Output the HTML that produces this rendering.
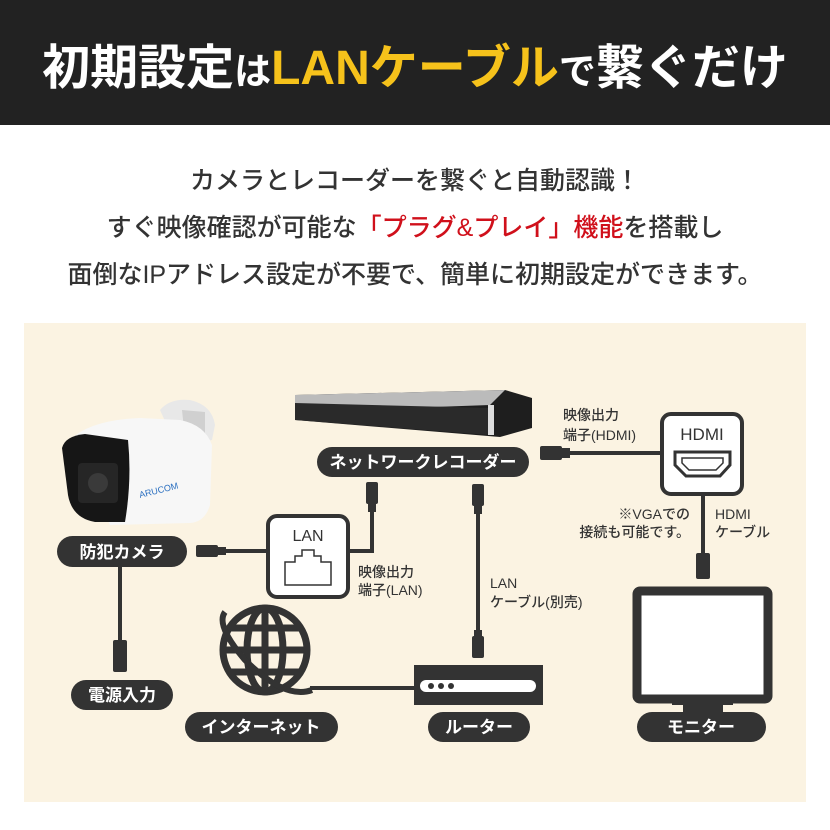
<!DOCTYPE html>
<html><head><meta charset="utf-8"><style>
html,body{margin:0;padding:0;width:830px;height:830px;overflow:hidden;background:#fff;}
svg{display:block;font-family:"Liberation Sans","Noto Sans CJK JP",sans-serif;}
</style></head><body>
<svg width="830" height="830" viewBox="0 0 830 830" xmlns="http://www.w3.org/2000/svg">
<rect x="0" y="0" width="830" height="125" fill="#222"/>
<text x="415" y="84" text-anchor="middle" font-size="48" font-weight="bold" fill="#fff"><tspan>初期設定</tspan><tspan font-size="37">は</tspan><tspan fill="#f6c21b">LANケーブル</tspan><tspan font-size="37">で</tspan><tspan>繋ぐだけ</tspan></text>
<g font-size="25" fill="#333" text-anchor="middle" font-weight="500">
<text x="415" y="189">カメラとレコーダーを繋ぐと自動認識！</text>
<text x="415" y="236">すぐ映像確認が可能な<tspan fill="#d0101b">「プラグ&amp;プレイ」機能</tspan>を搭載し</text>
<text x="415" y="283">面倒なIPアドレス設定が不要で、簡単に初期設定ができます。</text>
</g>
<rect x="24" y="323" width="782" height="479" fill="#fbf3e2"/>
<g stroke="#333" stroke-width="4" fill="none">
<path d="M225 551 H268"/><path d="M348 551 H372 V505"/>
<path d="M478 505 V640"/>
<path d="M570 453 H662"/>
<path d="M703 494 V555"/>
<path d="M120 566 V642"/>
<path d="M310 688 H414"/>
</g>
<g fill="#333">
<rect x="196" y="545" width="22" height="12" rx="2"/><rect x="216" y="547" width="10" height="8"/>
<rect x="366" y="482" width="12" height="22" rx="2"/><rect x="368" y="502" width="8" height="10"/>
<rect x="472" y="484" width="12" height="22" rx="2"/><rect x="474" y="504" width="8" height="10"/>
<rect x="472" y="636" width="12" height="22" rx="2"/><rect x="474" y="630" width="8" height="10"/>
<rect x="540" y="446" width="22" height="14" rx="2"/><rect x="560" y="448" width="10" height="10"/>
<rect x="696" y="553" width="14" height="26" rx="2"/>
<rect x="113" y="640" width="14" height="32" rx="2"/>
</g>
<!-- recorder -->
<path d="M295 395 L505 390 L532 398 V428 L500 437 L295 420 Z" fill="#1e1e1e"/>
<path d="M295 395 L505 390 L490 405 L295 412 Z" fill="#bbb"/>
<path d="M295 403 L490 408 L490 435 L295 420 Z" fill="#2a2a2a"/>
<rect x="488" y="405" width="6" height="30" fill="#ddd"/>
<!-- camera -->
<path d="M160 410 Q170 398 190 400 Q212 405 215 425 L212 440 L190 445 L170 432 Z" fill="#e8e8e8"/>
<path d="M182 410 L205 412 L205 435 L185 438 Z" fill="#d0d0d0"/>
<path d="M70 440 Q90 420 140 418 L180 420 Q205 425 212 445 L210 505 Q205 522 190 523 L110 525 Z" fill="#f7f7f7"/>
<path d="M62 448 Q65 436 85 434 L128 440 Q132 480 125 522 L95 522 Q72 518 68 495 Z" fill="#161616"/>
<rect x="78" y="463" width="40" height="40" rx="4" fill="#262626"/>
<circle cx="98" cy="483" r="10" fill="#3a3a3a"/>
<text x="140" y="498" font-size="9" fill="#2a6fc0" transform="rotate(-14 140 498)">ARUCOM</text>
<!-- LAN box -->
<rect x="268" y="516" width="80" height="81" rx="9" fill="#fff" stroke="#333" stroke-width="4"/>
<text x="308" y="541" font-size="16" text-anchor="middle" fill="#333">LAN</text>
<path d="M285 585 V562 H295 V556 H302 V550 H314 V556 H321 V562 H331 V585 Z" fill="none" stroke="#333" stroke-width="1.5"/>
<!-- HDMI box -->
<rect x="662" y="414" width="80" height="80" rx="9" fill="#fff" stroke="#333" stroke-width="4"/>
<text x="702" y="440" font-size="17" text-anchor="middle" fill="#333">HDMI</text>
<path d="M675 452 H730 V465 L720 476 H686 L675 465 Z" fill="none" stroke="#333" stroke-width="3"/>
<path d="M682 458 H723 V463 L716 470 H689 L682 463 Z" fill="none" stroke="#333" stroke-width="1.5"/>
<!-- monitor -->
<rect x="637" y="591" width="131" height="108" rx="3" fill="#fff" stroke="#333" stroke-width="9"/>
<rect x="683" y="700" width="40" height="12" fill="#333"/>
<rect x="672" y="700" width="61" height="5" fill="#333"/>
<!-- router -->
<rect x="414" y="665" width="129" height="40" fill="#333"/>
<rect x="420" y="680" width="116" height="12" rx="6" fill="#fff"/>
<circle cx="431" cy="686" r="3" fill="#333"/><circle cx="441" cy="686" r="3" fill="#333"/><circle cx="451" cy="686" r="3" fill="#333"/>
<!-- globe -->
<g fill="none" stroke="#333" stroke-width="7">
<circle cx="265" cy="650" r="42"/>
<ellipse cx="265" cy="650" rx="18" ry="42"/>
<path d="M223 650 H307 M265 608 V692 M230 628 H300 M230 672 H300"/>
<path d="M225 612 Q215 625 245 660 Q285 700 312 690" stroke-width="6"/>
</g>
<g fill="#333">
<rect x="57" y="536" width="130" height="31" rx="15.5"/>
<rect x="317" y="447" width="212" height="30" rx="15"/>
<rect x="71" y="680" width="102" height="30" rx="15"/>
<rect x="185" y="712" width="153" height="30" rx="15"/>
<rect x="428" y="712" width="102" height="30" rx="15"/>
<rect x="637" y="712" width="129" height="30" rx="15"/>
</g>
<g fill="#fff" font-size="17" font-weight="bold" text-anchor="middle">
<text x="122" y="558">防犯カメラ</text>
<text x="423" y="468">ネットワークレコーダー</text>
<text x="122" y="701">電源入力</text>
<text x="261" y="733">インターネット</text>
<text x="479" y="733">ルーター</text>
<text x="701" y="733">モニター</text>
</g>
<g fill="#333" font-size="14" font-weight="500">
<text x="358" y="577">映像出力</text><text x="358" y="595">端子(LAN)</text>
<text x="490" y="588">LAN</text><text x="490" y="607">ケーブル(別売)</text>
<text x="563" y="420">映像出力</text><text x="563" y="440">端子(HDMI)</text>
<text x="690" y="519" text-anchor="end">※VGAでの</text><text x="690" y="537" text-anchor="end">接続も可能です。</text>
<text x="715" y="519">HDMI</text><text x="715" y="537">ケーブル</text>
</g>
</svg>
</body></html>
